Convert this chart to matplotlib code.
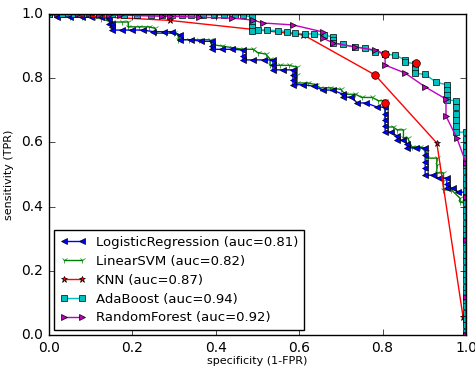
import matplotlib
matplotlib.use('Agg')
import matplotlib.pyplot as plt

plt.style.use('classic')

# ROC points (x = specificity axis, y = sensitivity)
lr_x = [0.00, 0.02, 0.02, 0.05, 0.08, 0.10, 0.125, 0.145, 0.145, 0.152, 0.152, 0.152,
        0.175, 0.200, 0.225, 0.250, 0.275, 0.295, 0.314, 0.314, 0.340, 0.365, 0.390,
        0.390, 0.390, 0.415, 0.440, 0.465, 0.465, 0.465, 0.490, 0.515, 0.537, 0.537,
        0.537, 0.560, 0.585, 0.585, 0.585, 0.585, 0.610, 0.635, 0.657, 0.680, 0.705,
        0.705, 0.725, 0.739, 0.760, 0.787, 0.806, 0.806, 0.806, 0.806, 0.806, 0.820,
        0.835, 0.835, 0.850, 0.859, 0.859, 0.880, 0.902, 0.902, 0.902, 0.902, 0.902,
        0.920, 0.935, 0.954, 0.954, 0.954, 0.970, 0.981, 1.000, 1.000, 1.000, 1.000]
lr_y = [1.000, 1.000, 0.990, 0.990, 0.990, 0.990, 0.990, 0.985, 0.970, 0.970, 0.960, 0.950,
        0.950, 0.950, 0.950, 0.945, 0.945, 0.945, 0.935, 0.920, 0.920, 0.915, 0.915,
        0.900, 0.890, 0.890, 0.890, 0.888, 0.870, 0.857, 0.857, 0.857, 0.857, 0.840,
        0.826, 0.826, 0.826, 0.810, 0.795, 0.780, 0.780, 0.775, 0.763, 0.763, 0.750,
        0.741, 0.741, 0.723, 0.723, 0.710, 0.710, 0.690, 0.670, 0.650, 0.632, 0.632,
        0.620, 0.607, 0.607, 0.595, 0.583, 0.583, 0.583, 0.560, 0.540, 0.520, 0.498,
        0.498, 0.489, 0.489, 0.470, 0.458, 0.458, 0.445, 0.445, 0.300, 0.150, 0.000]

svm_x = [0.00, 0.02, 0.05, 0.08, 0.11, 0.125, 0.150, 0.175, 0.190, 0.190, 0.215, 0.240,
         0.255, 0.255, 0.280, 0.300, 0.310, 0.310, 0.335, 0.360, 0.385, 0.390, 0.415,
         0.440, 0.465, 0.490, 0.500, 0.520, 0.530, 0.530, 0.555, 0.575, 0.595, 0.595,
         0.595, 0.620, 0.640, 0.650, 0.675, 0.700, 0.710, 0.735, 0.750, 0.775, 0.790,
         0.806, 0.806, 0.806, 0.806, 0.825, 0.835, 0.850, 0.850, 0.860, 0.870, 0.890,
         0.905, 0.905, 0.930, 0.930, 0.930, 0.946, 0.946, 0.946, 0.965, 0.985, 0.985,
         1.000, 1.000, 1.000]
svm_y = [1.000, 0.995, 0.990, 0.990, 0.990, 0.985, 0.975, 0.975, 0.975, 0.960, 0.960, 0.960,
         0.955, 0.940, 0.940, 0.940, 0.935, 0.920, 0.920, 0.920, 0.920, 0.905, 0.900,
         0.895, 0.890, 0.890, 0.880, 0.875, 0.860, 0.840, 0.840, 0.840, 0.835, 0.810,
         0.785, 0.785, 0.780, 0.770, 0.770, 0.765, 0.750, 0.750, 0.740, 0.740, 0.730,
         0.730, 0.700, 0.670, 0.648, 0.648, 0.639, 0.639, 0.614, 0.614, 0.586, 0.586,
         0.570, 0.551, 0.551, 0.530, 0.505, 0.505, 0.480, 0.452, 0.452, 0.427, 0.415,
         0.410, 0.200, 0.000]

knn_x = [0.00, 0.29, 0.61, 0.782, 0.93, 0.993, 1.00]
knn_y = [1.00, 0.98, 0.935, 0.81, 0.598, 0.056, 0.00]

ada_x = [0.00, 0.03, 0.06, 0.09, 0.12, 0.15, 0.18, 0.21, 0.245, 0.27, 0.295, 0.32,
         0.34, 0.37, 0.395, 0.42, 0.445, 0.465, 0.487, 0.487, 0.487, 0.487, 0.500,
         0.523, 0.549, 0.571, 0.590, 0.614, 0.635, 0.660, 0.681, 0.681, 0.681, 0.705,
         0.734, 0.758, 0.782, 0.806, 0.830, 0.854, 0.854, 0.878, 0.878, 0.878, 0.902,
         0.928, 0.954, 0.954, 0.954, 0.954, 0.976, 0.976, 0.976, 0.976, 0.976, 0.976,
         1.0, 1.0, 1.0, 1.0, 1.0, 1.0, 1.0, 1.0, 1.0, 1.0, 1.0, 1.0, 1.0, 1.0, 1.0,
         1.0, 1.0, 1.0, 1.0, 1.0, 1.0, 1.0, 1.0, 1.0, 1.0, 1.0, 1.0, 1.0, 1.0, 1.0,
         1.0, 1.0, 1.0]
ada_y = [1.000, 1.000, 1.000, 1.000, 1.000, 1.000, 0.997, 0.997, 0.997, 0.997, 0.997, 0.997,
         0.997, 0.997, 0.997, 0.997, 0.997, 0.997, 0.990, 0.975, 0.960, 0.947, 0.950,
         0.950, 0.948, 0.945, 0.940, 0.938, 0.938, 0.935, 0.928, 0.918, 0.910, 0.905,
         0.897, 0.894, 0.882, 0.875, 0.872, 0.857, 0.850, 0.845, 0.830, 0.815, 0.812,
         0.788, 0.779, 0.762, 0.747, 0.732, 0.730, 0.710, 0.690, 0.670, 0.650, 0.632,
         0.632, 0.610, 0.590, 0.570, 0.550, 0.530, 0.510, 0.490, 0.470, 0.450, 0.430,
         0.410, 0.390, 0.370, 0.350, 0.330, 0.310, 0.290, 0.270, 0.250, 0.230, 0.210,
         0.190, 0.170, 0.150, 0.130, 0.110, 0.090, 0.070, 0.050, 0.030, 0.010, 0.000]

rf_x = [0.00, 0.02, 0.07, 0.095, 0.12, 0.145, 0.17, 0.27, 0.29, 0.36, 0.44, 0.489,
        0.513, 0.585, 0.657, 0.657, 0.681, 0.734, 0.782, 0.806, 0.806, 0.854, 0.902,
        0.952, 0.952, 0.978, 1.0, 1.0, 1.0, 1.0, 1.0]
rf_y = [1.000, 1.000, 1.000, 1.000, 0.998, 0.997, 0.996, 0.993, 0.993, 0.990, 0.987, 0.981,
        0.972, 0.966, 0.944, 0.925, 0.910, 0.897, 0.888, 0.875, 0.841, 0.816, 0.773,
        0.735, 0.682, 0.614, 0.536, 0.430, 0.296, 0.118, 0.000]

# operating points highlighted in red
op_x = [0.782, 0.806, 0.880, 0.806]
op_y = [0.810, 0.875, 0.847, 0.723]

labels = ['LogisticRegression (auc=0.81)', 'LinearSVM (auc=0.82)', 'KNN (auc=0.87)',
          'AdaBoost (auc=0.94)', 'RandomForest (auc=0.92)']

fig = plt.figure(figsize=(4.75, 3.66), dpi=100)
ax = fig.add_axes([49/475, 31/366, 417/475, 321/366])

ms = 4.5
ax.plot(svm_x, svm_y, 'g-', marker='1', ms=ms, label=labels[1])
ax.plot(lr_x, lr_y, 'b-', marker='<', ms=ms, label=labels[0])
ax.plot(knn_x, knn_y, 'r-', marker='*', ms=ms, label=labels[2])
ax.plot(ada_x, ada_y, 'c-', marker='s', ms=ms, label=labels[3])
ax.plot(rf_x, rf_y, 'm-', marker='>', ms=ms, label=labels[4])
ax.plot(op_x, op_y, 'ro', ms=5.5)

ax.set_xlim(0, 1)
ax.set_ylim(0, 1)
ax.set_xticks([0.0, 0.2, 0.4, 0.6, 0.8, 1.0])
ax.set_yticks([0.0, 0.2, 0.4, 0.6, 0.8, 1.0])
ax.tick_params(labelsize=10)
ax.set_xlabel('specificity (1-FPR)', fontsize=8, labelpad=1)
ax.set_ylabel('sensitivity (TPR)', fontsize=8)

h, l = ax.get_legend_handles_labels()
order = [1, 0, 2, 3, 4]
ax.legend([h[i] for i in order], [l[i] for i in order], loc='lower left',
          fontsize=9.5, labelspacing=0.45, borderaxespad=0.4)

fig.savefig('out.png', dpi=100)
